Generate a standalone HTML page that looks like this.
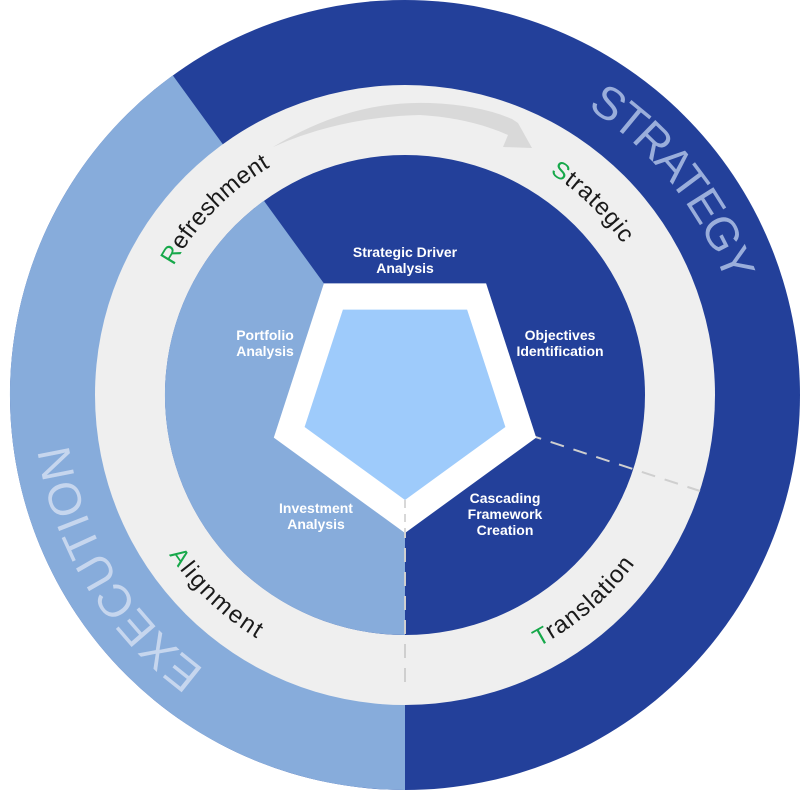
<!DOCTYPE html>
<html><head><meta charset="utf-8"><style>
html,body{margin:0;padding:0;background:#fff;}
svg{display:block;}
.lbl{font-family:"Liberation Sans Narrow","Liberation Sans",sans-serif;font-weight:bold;font-size:14px;fill:#fff;text-anchor:middle;}
.ring{font-family:"Liberation Sans",sans-serif;font-size:24px;fill:#1a1a1a;}
.g{fill:#16a84a;}
.big{font-family:"Liberation Sans",sans-serif;font-size:46px;}
</style></head><body>
<svg width="800" height="790" viewBox="0 0 800 790" xmlns="http://www.w3.org/2000/svg">
<defs>
<path id="cw340" d="M405,55 A340,340 0 1 1 405,735 A340,340 0 1 1 405,55"/>
<path id="cw265" d="M405,130 A265,265 0 1 1 405,660 A265,265 0 1 1 405,130"/>
<path id="ccw285" d="M405,680 A285,285 0 1 0 405,110 A285,285 0 1 0 405,680"/>
</defs>
<circle cx="405" cy="395" r="395" fill="#23409a"/>
<path d="M405,395 L405,790 A395,395 0 0 1 172.8,75.4 Z" fill="#87acdb"/>
<circle cx="405" cy="395" r="310" fill="#efefef"/>
<circle cx="405" cy="395" r="240" fill="#23409a"/>
<path d="M405,395 L405,635 A240,240 0 0 1 263.9,200.8 Z" fill="#87acdb"/>
<path d="M273,147 Q350,100 430,103 Q480,105 512,119 L518,123 L532,148 L503,147 L508,135 Q470,118 420,115 Q340,117 273,147 Z" fill="#d9d9d9"/>
<line x1="405" y1="500" x2="405" y2="690" stroke="#cfcfcf" stroke-width="2" stroke-dasharray="14 10"/>
<line x1="505" y1="427" x2="700" y2="491" stroke="#cfcfcf" stroke-width="2" stroke-dasharray="14 10"/>
<polygon points="405,257 536.2,352.4 486.1,506.6 323.9,506.6 273.8,352.4" fill="#fff" transform="rotate(180 405 395)"/>
<polygon points="405,289 505.4,362 467.1,479.4 342.9,479.4 304.6,362" fill="#9ecbfb" transform="rotate(180 405 394.5)"/>
<line x1="405" y1="500" x2="405" y2="533" stroke="#d8d8d8" stroke-width="2" stroke-dasharray="8 6"/>
<text class="lbl" x="405" y="257">Strategic Driver</text>
<text class="lbl" x="405" y="273">Analysis</text>
<text class="lbl" x="560" y="340">Objectives</text>
<text class="lbl" x="560" y="356">Identification</text>
<text class="lbl" x="265" y="340">Portfolio</text>
<text class="lbl" x="265" y="356">Analysis</text>
<text class="lbl" x="316" y="513">Investment</text>
<text class="lbl" x="316" y="529">Analysis</text>
<text class="lbl" x="505" y="503">Cascading</text>
<text class="lbl" x="505" y="519">Framework</text>
<text class="lbl" x="505" y="535">Creation</text>
<text class="big" fill="#9aaedb"><textPath href="#cw340" startOffset="192" textLength="228" lengthAdjust="spacing">STRATEGY</textPath></text>
<text class="big" fill="#c6d6ee"><textPath href="#cw340" startOffset="1282" textLength="270" lengthAdjust="spacing">EXECUTION</textPath></text>
<text class="ring"><textPath href="#cw265" startOffset="1383" textLength="140" lengthAdjust="spacing"><tspan class="g">R</tspan>efreshment</textPath></text>
<text class="ring"><textPath href="#cw265" startOffset="153" textLength="102" lengthAdjust="spacing"><tspan class="g">S</tspan>trategic</textPath></text>
<text class="ring"><textPath href="#ccw285" startOffset="139" textLength="128" lengthAdjust="spacing"><tspan class="g">T</tspan>ranslation</textPath></text>
<text class="ring"><textPath href="#ccw285" startOffset="1512" textLength="122" lengthAdjust="spacing"><tspan class="g">A</tspan>lignment</textPath></text>
</svg>
</body></html>
